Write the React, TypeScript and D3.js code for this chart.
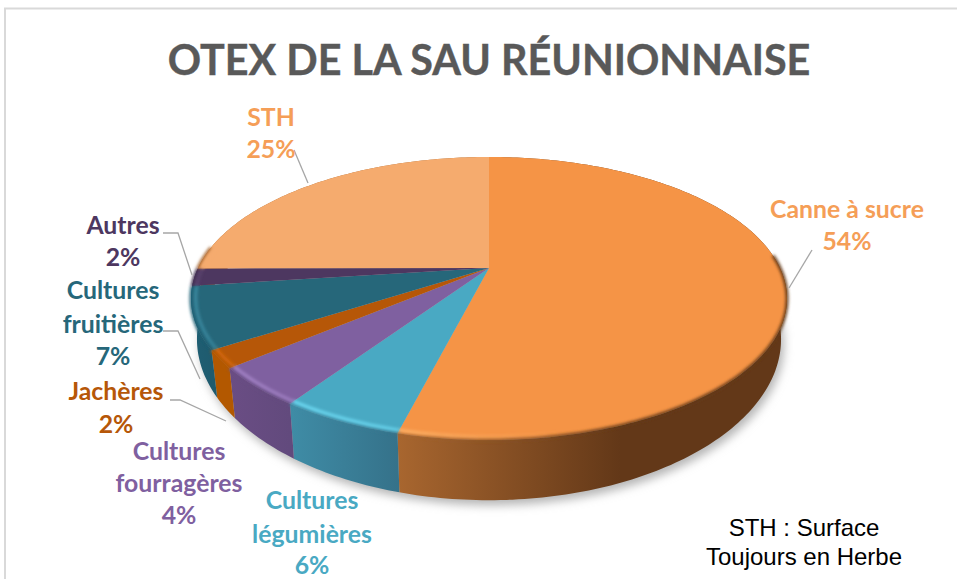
import React from 'react';
import * as d3 from 'd3';

const categories = ['Canne à sucre', 'Cultures légumières', 'Cultures fourragères', 'Jachères', 'Cultures fruitières', 'Autres', 'STH'];
const shares = [54, 5.5, 4.45, 2, 7, 2, 25.05];
const topColors = ['#f59446', '#49a9c3', '#7f60a0', '#b65708', '#26677a', '#4d3760', '#f5ab6e'];
const wallLeft = ['#a8662f', '#3f8ca6', '#6a4d84', '#b35800', '#1f5f74', '#3f2d50', '#a8662f'];
const wallRight = ['#633818', '#35728a', '#624a7d', '#b35800', '#1f5b6e', '#3f2d50', '#a8662f'];
const rimColors = ['#ffb368', '#6fdcf5', '#a585c8', '#d96b0a', '#3c8ca3', '#5c4570', '#f5ab6e'];

// label lines, then where they sit
const labelLines = [
  ['Canne à sucre', '54%'],
  ['Cultures', 'légumières', '6%'],
  ['Cultures', 'fourragères', '4%'],
  ['Jachères', '2%'],
  ['Cultures', 'fruitières', '7%'],
  ['Autres', '2%'],
  ['STH', '25%'],
];
const labelX = [847, 312, 179, 116, 113, 123, 271];
const labelY = [
  [218, 250],
  [509, 543, 574],
  [460, 492, 524],
  [400, 433],
  [299, 333, 365],
  [234, 266],
  [126, 158],
];
const leaders: [number, number][][] = [
  [[812, 250], [789, 288]],
  [],
  [],
  [[170, 400], [180, 400], [226, 421]],
  [[163, 331], [178, 331], [200, 379]],
  [[163, 233], [178, 233], [192, 275]],
  [[294, 150], [308, 183]],
];

const width = 957;
const height = 579;
const cx = 489;
const cy = 268;
const radiusX = 291;
const radiusY = 135;
const tilt = 0.2155;
const depth = 37;
const baseScale = 0.98;

const project = (r: number, a: number): [number, number] => {
  const u = r * Math.sin(a);
  const v = -r * Math.cos(a);
  const s = 1 / (1 - tilt * v);
  return [cx + radiusX * u * s, cy + radiusY * v * s];
};

const projectBase = (r: number, a: number): [number, number] => {
  const v = -r * Math.cos(a);
  const s = 1 / (1 - tilt * v);
  const [x, y] = project(r, a);
  return [cx + (x - cx) * baseScale, y + depth * s * s];
};

const line = d3.line();
const steps = (a0: number, a1: number) => {
  const n = Math.max(2, Math.ceil((a1 - a0) * 60));
  return d3.range(n + 1).map(i => a0 + ((a1 - a0) * i) / n);
};

const slices = d3.pie<number>().sort(null).value(d => d)(shares);

// only the part of the rim that faces the viewer gets the soft edge
const frontAngles = (a0: number, a1: number) =>
  steps(Math.max(a0, Math.PI * 0.47), Math.min(a1, Math.PI * 1.55));

function App() {
  const font = 'Lato, sans-serif';
  const baseOutline = line(steps(0, Math.PI * 2).map(a => projectBase(1, a))) + 'Z';

  return (
    <svg
      width={width}
      height={height}
      viewBox={`0 0 ${width} ${height}`}
      style={{ position: 'absolute', left: 0, top: 0, background: '#fff' }}
    >
      <defs>
        <filter id="shadow" x="-10%" y="-10%" width="120%" height="130%">
          <feGaussianBlur stdDeviation="5" />
        </filter>
        <filter id="soft" filterUnits="userSpaceOnUse" x="0" y="0" width={width} height={height}>
          <feGaussianBlur stdDeviation="1.6" />
        </filter>
        {slices.map((d, i) => {
          const xs = steps(d.startAngle, d.endAngle).map(a => project(1, a)[0]);
          const x0 = i === 0 ? 398 : (d3.min(xs) as number);
          const x1 = i === 0 ? 620 : (d3.max(xs) as number);
          return (
            <React.Fragment key={i}>
              <linearGradient id={`wall${i}`} gradientUnits="userSpaceOnUse" x1={x0} x2={x1} y1={0} y2={0}>
                <stop offset="0" stopColor={wallLeft[i]} />
                <stop offset="1" stopColor={wallRight[i]} />
              </linearGradient>
              <linearGradient id={`rim${i}`} gradientUnits="userSpaceOnUse" x1={x0} x2={i === 0 ? 560 : x1} y1={0} y2={0}>
                <stop offset="0" stopColor={rimColors[i]} stopOpacity={1} />
                <stop offset="1" stopColor={rimColors[i]} stopOpacity={i === 0 ? 0 : 0.8} />
              </linearGradient>
            </React.Fragment>
          );
        })}
      </defs>

      <path d={`M5,${height}V8.5H${width}`} fill="none" stroke="#d9d9d9" strokeWidth={2} />

      <text
        x={489}
        y={75}
        textAnchor="middle"
        fontFamily={font}
        fontWeight={700}
        fontSize={41.3}
        fill="#595959"
        stroke="#595959"
        strokeWidth={0.4}
      >
        OTEX DE LA SAU RÉUNIONNAISE
      </text>

      <path d={baseOutline} fill="#b5b5b5" transform="translate(3,5)" filter="url(#shadow)" />

      {slices.map((d, i) => {
        const angles = steps(d.startAngle, d.endAngle);
        const wall = [...angles.map(a => project(1, a)), ...angles.slice().reverse().map(a => projectBase(1, a))];
        return <path key={i} d={line(wall) + 'Z'} fill={`url(#wall${i})`} />;
      })}

      {slices.map((d, i) => {
        const angles = steps(d.startAngle, d.endAngle);
        const face = [[cx, cy] as [number, number], ...angles.map(a => project(1, a))];
        return <path key={i} d={line(face) + 'Z'} fill={topColors[i]} />;
      })}

      {/* soft edge of the top face, then the bevel highlight */}
      {slices.map((d, i) => {
        if (d.startAngle >= Math.PI * 1.55) return null;
        const angles = frontAngles(d.startAngle, d.endAngle);
        const outer = angles.map(a => project(1, a));
        const inner = angles.map(a => project(0.985, a));
        return (
          <g key={i}>
            <path d={line(outer) as string} fill="none" stroke={`url(#wall${i})`} strokeWidth={3} filter="url(#soft)" />
            <path d={line(inner) as string} fill="none" stroke={`url(#rim${i})`} strokeWidth={3} filter="url(#soft)" />
          </g>
        );
      })}

      {leaders.map((pts, i) =>
        pts.length ? <path key={i} d={line(pts) as string} fill="none" stroke="#a6a6a6" strokeWidth={1.3} /> : null
      )}

      {categories.map((c, i) => (
        <text
          key={c}
          textAnchor="middle"
          fontFamily={font}
          fontWeight={700}
          fontSize={24.8}
          fill={i === 3 ? '#b65708' : i === 6 || i === 0 ? '#f59e57' : topColors[i]}
        >
          {labelLines[i].map((t, j) => (
            <tspan key={j} x={labelX[i]} y={labelY[i][j]}>
              {t}
            </tspan>
          ))}
        </text>
      ))}

      <text textAnchor="middle" fontFamily="'Liberation Sans', Arial, sans-serif" fontSize={24} fill="#000">
        <tspan x={804} y={536}>STH : Surface</tspan>
        <tspan x={804} y={565}>Toujours en Herbe</tspan>
      </text>
    </svg>
  );
}

export default App;
